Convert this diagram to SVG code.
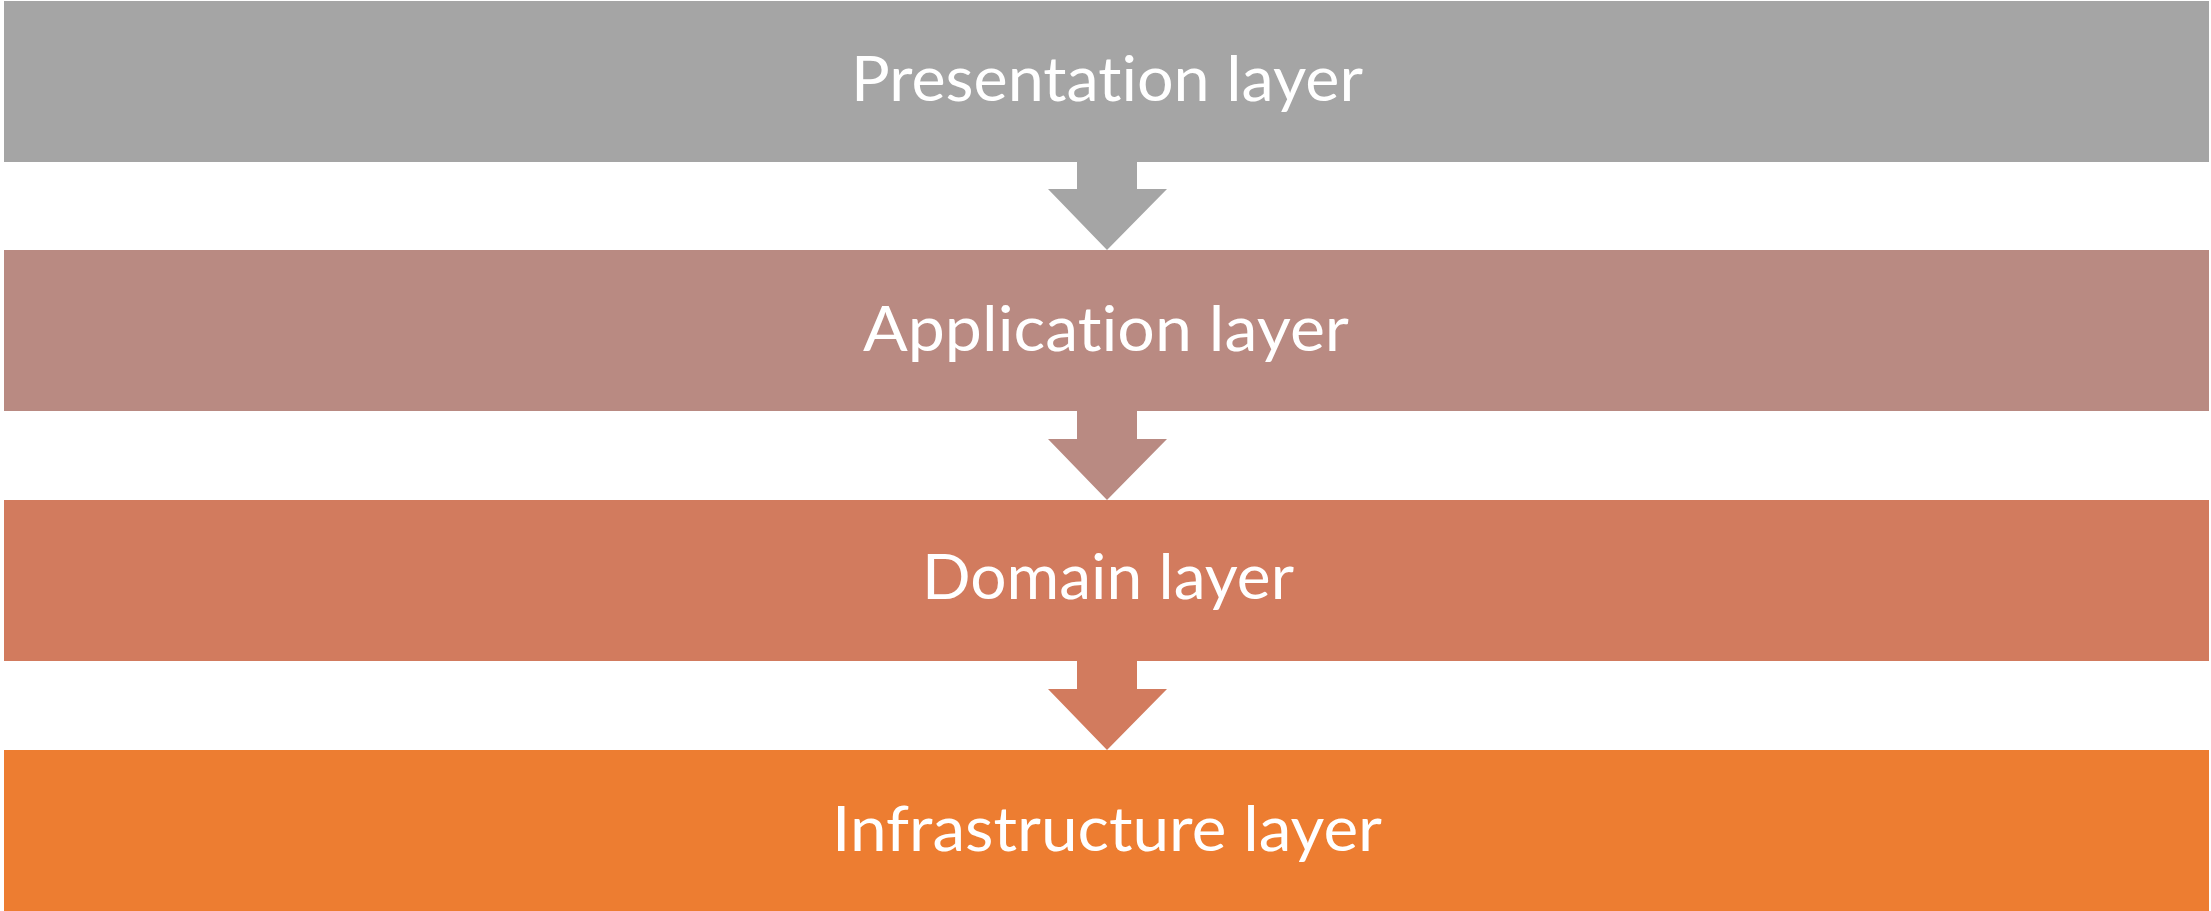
<svg xmlns="http://www.w3.org/2000/svg" width="2211" height="911" viewBox="0 0 2211 911">
<style>
.lbl{font-family:"Lato","Liberation Sans",sans-serif;font-size:62px;fill:#ffffff;text-anchor:middle;font-variant-ligatures:none;font-feature-settings:"liga" 0}
</style>
<rect width="2211" height="911" fill="#ffffff"/>
<g id="connectors">
<polygon points="1077,160 1137,160 1137,189 1167,189 1107,250 1048,189 1077,189" fill="#A5A5A5"/>
<polygon points="1077,409 1137,409 1137,439 1167,439 1107,500 1048,439 1077,439" fill="#B98A82"/>
<polygon points="1077,659 1137,659 1137,689 1167,689 1107,750 1048,689 1077,689" fill="#D27B5E"/>
</g>
<g id="presentation">
<rect x="4" y="1" width="2205" height="161" fill="#A5A5A5"/>
<text class="lbl" x="1107" y="101" textLength="512" lengthAdjust="spacingAndGlyphs">Presentation layer</text>
</g>
<g id="application">
<rect x="4" y="250" width="2205" height="161" fill="#B98A82"/>
<text class="lbl" x="1106" y="351" textLength="486" lengthAdjust="spacingAndGlyphs">Application layer</text>
</g>
<g id="domain">
<rect x="4" y="500" width="2205" height="161" fill="#D27B5E"/>
<text class="lbl" x="1108" y="599" textLength="372" lengthAdjust="spacingAndGlyphs">Domain layer</text>
</g>
<g id="infrastructure">
<rect x="4" y="750" width="2205" height="161" fill="#ED7D31"/>
<text class="lbl" x="1107" y="851" textLength="550" lengthAdjust="spacingAndGlyphs">Infrastructure layer</text>
</g>
</svg>
